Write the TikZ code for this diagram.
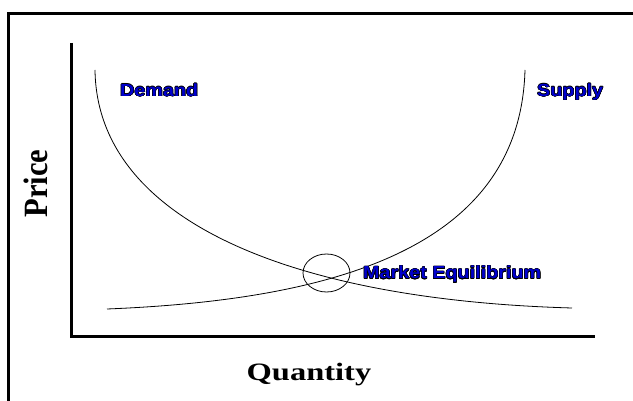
\documentclass[tikz,border=0pt]{standalone}
\usepackage{fontspec}
\usepackage{graphicx}
\usepackage[copies]{contour}
\setmainfont{Liberation Serif}
\newfontfamily\curvefont{Liberation Sans}[FakeStretch=1.13]
\definecolor{labelblue}{RGB}{0,0,205}
\contourlength{0.5pt}
\usetikzlibrary{positioning,shapes.geometric}

\begin{document}
\begin{tikzpicture}[x=1pt, y=-1pt,
    curvelabel/.style={anchor=base west, inner sep=0pt, text=labelblue,
      font=\curvefont\bfseries\fontsize{17.5}{17.5}\selectfont},
    axislabel/.style={inner sep=0pt, font=\bfseries\fontsize{25}{25}\selectfont}]
  \useasboundingbox (0,0) rectangle (633,401);

  %% --- FRAME ---
  \draw[line width=3pt] (633,13.5) -- (8.5,13.5) -- (8.5,401);

  %% --- AXES ---
  \coordinate (ytop)   at (71.5,43);
  \coordinate (origin) at (71.5,336.5);
  \coordinate (xend)   at (595,336.5);
  \draw[line width=3pt] (ytop) -- (origin) -- (xend);

  %% --- CURVES ---
  \coordinate (dstart) at (95,70);
  \coordinate (dend)   at (572,308);
  \coordinate (sstart) at (107,309);
  \coordinate (send)   at (525,70);
  \draw[line width=0.8pt] (dstart) .. controls (97,220) and (290,300) .. (dend);
  \draw[line width=0.8pt] (sstart) .. controls (330,300) and (520,250) .. (send);

  %% --- EQUILIBRIUM ---
  \node[draw, line width=0.8pt, ellipse, minimum width=47pt, minimum height=38pt, inner sep=0pt] (equil) at (326.5,273) {};

  %% --- LABELS ---
  \node[curvelabel] (demand) at (120,96.5) {\contour{black}{Demand}};
  \node[curvelabel] (supply) at (537,96.5) {\contour{black}{Supply}};
  \node[curvelabel] (market) at (363,279) {\contour{black}{Market Equilibrium}};

  \node[axislabel, anchor=base] (quantity) at (309,381) {\scalebox{1.3}[1]{Quantity}};
  \node[axislabel, rotate=90, font=\bfseries\fontsize{34}{34}\selectfont] (price) at (36,183.5) {\scalebox{0.9}[1]{Price}};
\end{tikzpicture}
\end{document}
